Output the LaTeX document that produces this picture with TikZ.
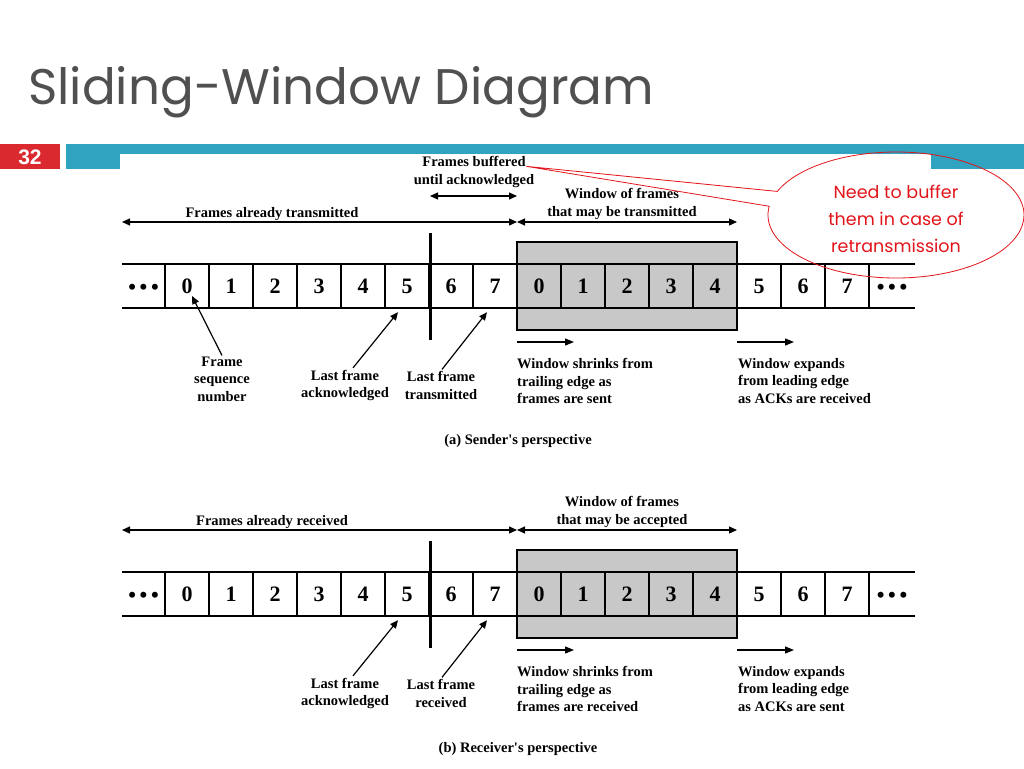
\documentclass[tikz,border=0pt]{standalone}
\usepackage{fontspec}
\setmainfont{Liberation Serif}
\newfontfamily\titlefont{Poppins}
\newfontfamily\arialfont{Liberation Sans}
\usetikzlibrary{arrows.meta,shapes.callouts,calc}
\definecolor{titlegray}{HTML}{505050}
\definecolor{barteal}{HTML}{2FA3BF}
\definecolor{barred}{HTML}{DA2A2F}
\definecolor{wingray}{HTML}{C8C8C8}
\definecolor{callred}{HTML}{E2151B}
\tikzset{
  lbl/.style={font=\bfseries\fontsize{14.5}{17.5}\selectfont, align=center, inner sep=0pt},
  lbll/.style={lbl, align=left, anchor=west},
  num/.style={font=\bfseries\fontsize{22}{22}\selectfont, inner sep=0pt, minimum width=44pt, minimum height=44pt},
  dots/.style={num, yshift=-3pt},
  gridline/.style={line width=2pt},
  winbox/.style={draw, line width=2.5pt, fill=wingray, minimum width=220pt, minimum height=88pt, inner sep=0pt},
  marker/.style={line width=3pt},
  dbl/.style={line width=1.2pt, {Triangle[length=8pt,width=7pt]}-{Triangle[length=8pt,width=7pt]}},
  sgl/.style={line width=1.2pt, -{Triangle[length=8pt,width=7pt]}},
  sgl2/.style={line width=1.2pt, -{Triangle[length=9pt,width=7pt]}},
}
\newcommand{\seqrow}{%
  \node[winbox] (win) at (627,286) {};
  \draw[gridline] (122,264) -- (915,264);
  \draw[gridline] (122,308) -- (915,308);
  \foreach \k in {0,...,16} {\draw[gridline] (165+44*\k,264) -- (165+44*\k,308);}
  \node[dots] (dl) at (143.5,286) {•\,•\,•};
  \node[dots] (dr) at (892,286) {•\,•\,•};
  \foreach \t [count=\i from 0] in {0,1,2,3,4,5,6,7,0,1,2,3,4,5,6,7}
    {\node[num] (c\i) at (187+44*\i,286) {\t};}
  \coordinate (mt) at (430,233);
  \coordinate (mb) at (430,340);
  \draw[marker] (mt) -- (mb);
  \coordinate (al) at (122,222);
  \coordinate (am) at (517,222);
  \coordinate (ar) at (737,222);
  \draw[dbl] (al) -- (am);
  \draw[dbl] (am) -- (ar);
  \coordinate (s1) at (517,342);
  \coordinate (s2) at (574,342);
  \coordinate (e1) at (737,342);
  \coordinate (e2) at (794,342);
  \draw[sgl2] (s1) -- (s2);
  \draw[sgl2] (e1) -- (e2);
  \draw[sgl] ($(lfa.north)+(8,-2)$) -- ($(c5.south)+(-9,4)$);
  \draw[sgl] ($(lft.north)+(1,-2)$) -- ($(c7.south)+(-8,4)$);
}
\begin{document}
\begin{tikzpicture}[x=1pt,y=-1pt]
\useasboundingbox (0,0) rectangle (1024,768);
\fill[white] (0,0) rectangle (1024,768);
% title
\node[anchor=base west, inner sep=0pt, text=titlegray, font=\titlefont\fontsize{50}{50}\selectfont] (title) at (28,104) {Sliding-Window Diagram};
% header bar
\fill[barred] (0,144) rectangle (60,169);
\node[text=white, font=\arialfont\bfseries\fontsize{21}{21}\selectfont, inner sep=0pt] (pg) at (30,157) {32};
\fill[barteal] (66,144) rectangle (1024,169);
\fill[white] (120,154) rectangle (931,170);

% ===== panel (a)
\begin{scope}
\node[lbl] (lfa) at (345,385.5) {Last frame\\acknowledged};
\node[lbl] (lft) at (441,385.5) {Last frame\\transmitted};
\seqrow
\node[lbl] (fb) at (474,172) {Frames buffered\\until acknowledged};
\coordinate (b1) at (430,196);
\coordinate (b2) at (517,196);
\draw[dbl] (b1) -- (b2);
\node[lbl] (fat) at (272,214) {Frames already transmitted};
\node[lbl] (wof) at (622,204) {Window of frames\\that may be transmitted};
\node[lbl] (fsn) at (222,379) {Frame\\sequence\\number};
\draw[sgl] ($(fsn.north)+(0,-1)$) -- ($(c0.center)+(5,10)$);
\node[lbll] (ws) at (517,381) {Window shrinks from\\trailing edge as\\frames are sent};
\node[lbll] (we) at (738,381) {Window expands\\from leading edge\\as ACKs are received};
\node[lbl] (capa) at (518,441) {(a) Sender\textquotesingle s perspective};
\coordinate (fbtip) at ($(fb.north east)+(-8,10)$);
\node[ellipse callout, draw=callred, line width=0.8pt, minimum width=256pt, minimum height=126pt, inner sep=0pt,
      callout absolute pointer={(fbtip)}, callout pointer arc=14] (call) at (896,215) {};
\node[align=center, text=callred, inner sep=0pt, font=\titlefont\fontsize{17.5}{27}\selectfont] (calltext) at (896,219) {Need to buffer\\them in case of\\retransmission};
\end{scope}

% ===== panel (b)
\begin{scope}[shift={(0,308)}, name prefix=b-]
\node[lbl] (lfa) at (345,385.5) {Last frame\\acknowledged};
\node[lbl] (lft) at (441,385.5) {Last frame\\received};
\seqrow
\node[lbl] (far) at (272,214) {Frames already received};
\node[lbl] (wof) at (622,204) {Window of frames\\that may be accepted};
\node[lbll] (ws) at (517,381) {Window shrinks from\\trailing edge as\\frames are received};
\node[lbll] (we) at (738,381) {Window expands\\from leading edge\\as ACKs are sent};
\node[lbl] (capb) at (518,441) {(b) Receiver\textquotesingle s perspective};
\end{scope}
\end{tikzpicture}
\end{document}
